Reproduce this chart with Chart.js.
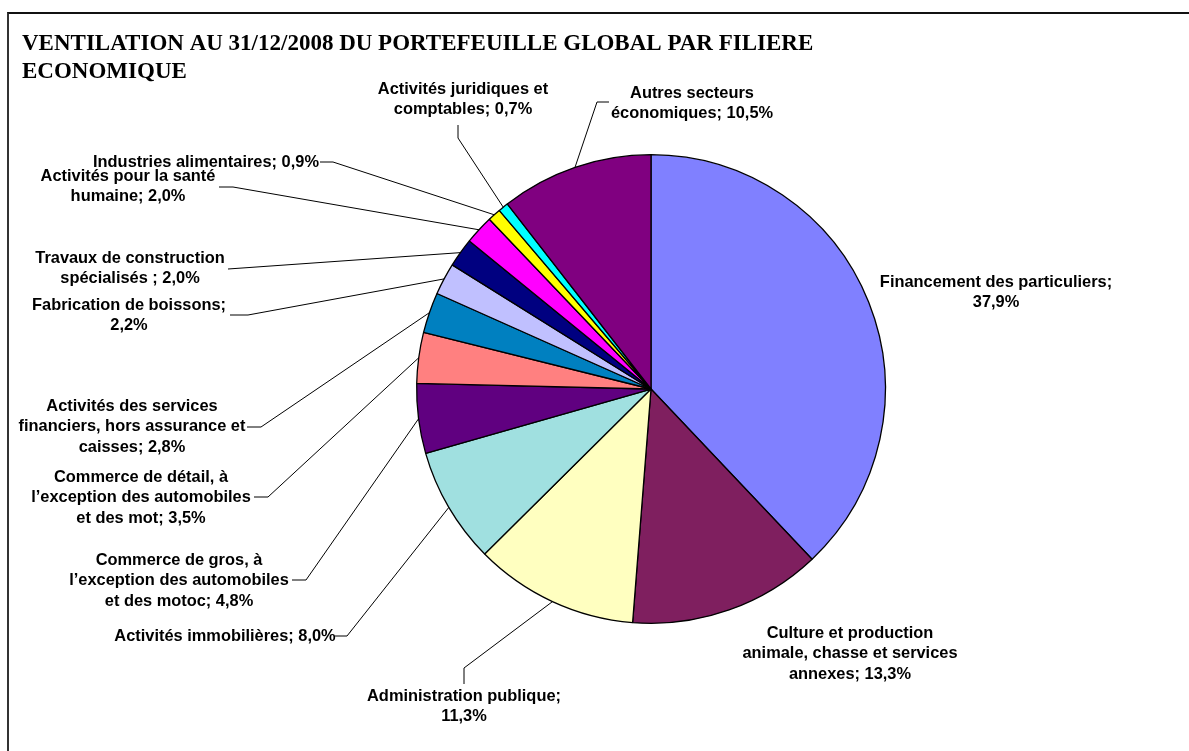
<!DOCTYPE html>
<html>
<head>
<meta charset="utf-8">
<script src="https://cdn.jsdelivr.net/npm/chart.js@4.4.1/dist/chart.umd.min.js"></script>
<style>
  body { margin: 0; background: #fff; }
  #frame { position: absolute; left: 7px; top: 12px; width: 1400px; height: 900px; border-left: 2px solid #333; border-top: 2px solid #111; }
  canvas { position: absolute; left: 0; top: 0; }
</style>
</head>
<body>
<div id="frame"></div>
<canvas id="pieChart" width="1189" height="751"></canvas>
<script>
const titleLines = ['VENTILATION AU 31/12/2008 DU PORTEFEUILLE GLOBAL PAR FILIERE', 'ECONOMIQUE'];

const categories = [
    'Financement des particuliers',
    'Culture et production animale, chasse et services annexes',
    'Administration publique',
    'Activités immobilières',
    'Commerce de gros, à l’exception des automobiles et des motoc',
    'Commerce de détail, à l’exception des automobiles et des mot',
    'Activités des services financiers, hors assurance et caisses',
    'Fabrication de boissons',
    'Travaux de construction spécialisés ',
    'Activités pour la santé humaine',
    'Industries alimentaires',
    'Activités juridiques et comptables',
    'Autres secteurs économiques'
];
const shares = [37.9, 13.3, 11.3, 8.0, 4.8, 3.5, 2.8, 2.2, 2.0, 2.0, 0.9, 0.7, 10.5];
const colors = ['#8080ff', '#7f1f5f', '#ffffc0', '#a0e0e0', '#600080', '#ff8080', '#0080c0',
                '#c0c0ff', '#000080', '#ff00ff', '#ffff00', '#00ffff', '#800080'];

// label text as it is wrapped in the picture
const labelLines = [
    ['Financement des particuliers;', '37,9%'],
    ['Culture et production', 'animale, chasse et services', 'annexes; 13,3%'],
    ['Administration publique;', '11,3%'],
    ['Activités immobilières; 8,0%'],
    ['Commerce de gros, à', 'l’exception des automobiles', 'et des motoc; 4,8%'],
    ['Commerce de détail, à', 'l’exception des automobiles', 'et des mot; 3,5%'],
    ['Activités des services', 'financiers, hors assurance et', 'caisses; 2,8%'],
    ['Fabrication de boissons;', '2,2%'],
    ['Travaux de construction', 'spécialisés ; 2,0%'],
    ['Activités pour la santé', 'humaine; 2,0%'],
    ['Industries alimentaires; 0,9%'],
    ['Activités juridiques et', 'comptables; 0,7%'],
    ['Autres secteurs', 'économiques; 10,5%']
];
// layout: label centre x / first line y, and leader line start + elbow
const labelAt = [[996, 282], [850, 633], [464, 696], [225, 636], [179, 560], [141, 477], [132, 406],
                 [129, 305], [130, 258], [128, 176], [206, 162], [463, 89], [692, 93]];
const leaderFrom = [null, null,
    [[464, 684], [464, 668]], [[335, 636], [347, 636]], [[292, 580], [306, 580]],
    [[254, 497], [268, 497]], [[247, 427], [261, 427]], [[230, 315], [248, 315]],
    [[228, 269], [228, 269]], [[219, 187], [233, 187]], [[320, 162], [333, 162]],
    [[458, 125], [458, 138]], [[609, 102], [597, 102]]];

const lineGap = 20.5;

const labelPlugin = {
    id: 'pieLabels',
    afterDraw(chart) {
        const ctx = chart.ctx;
        ctx.save();
        // title
        ctx.fillStyle = '#000';
        ctx.font = 'bold 23px "Liberation Serif", "Times New Roman", serif';
        ctx.textAlign = 'left';
        ctx.textBaseline = 'alphabetic';
        titleLines.forEach((t, i) => ctx.fillText(t, 22, 50 + i * 28));

        const arcs = chart.getDatasetMeta(0).data;
        // leader lines
        ctx.strokeStyle = '#000';
        ctx.lineWidth = 1;
        leaderFrom.forEach((pts, i) => {
            if (!pts) return;
            const a = arcs[i].getProps(['x', 'y', 'startAngle', 'endAngle', 'outerRadius'], true);
            const mid = (a.startAngle + a.endAngle) / 2;
            const ex = a.x + Math.cos(mid) * a.outerRadius;
            const ey = a.y + Math.sin(mid) * a.outerRadius;
            ctx.beginPath();
            ctx.moveTo(pts[0][0], pts[0][1]);
            ctx.lineTo(pts[1][0], pts[1][1]);
            ctx.lineTo(ex, ey);
            ctx.stroke();
        });

        // labels
        ctx.font = 'bold 16.4px "Liberation Sans", Arial, sans-serif';
        ctx.textAlign = 'center';
        ctx.textBaseline = 'middle';
        labelLines.forEach((lines, i) => {
            lines.forEach((l, j) => ctx.fillText(l, labelAt[i][0], labelAt[i][1] + j * lineGap));
        });
        ctx.restore();
    }
};

const ctx = document.getElementById('pieChart').getContext('2d');
new Chart(ctx, {
    type: 'pie',
    data: {
        labels: categories,
        datasets: [{
            data: shares,
            backgroundColor: colors,
            borderColor: '#000',
            borderWidth: 1.3,
            hoverOffset: 0
        }]
    },
    options: {
        responsive: false,
        animation: false,
        layout: { padding: { left: 416, right: 303, top: 154, bottom: 127 } },
        plugins: {
            legend: { display: false },
            tooltip: { enabled: false }
        }
    },
    plugins: [labelPlugin]
});
</script>
</body>
</html>
